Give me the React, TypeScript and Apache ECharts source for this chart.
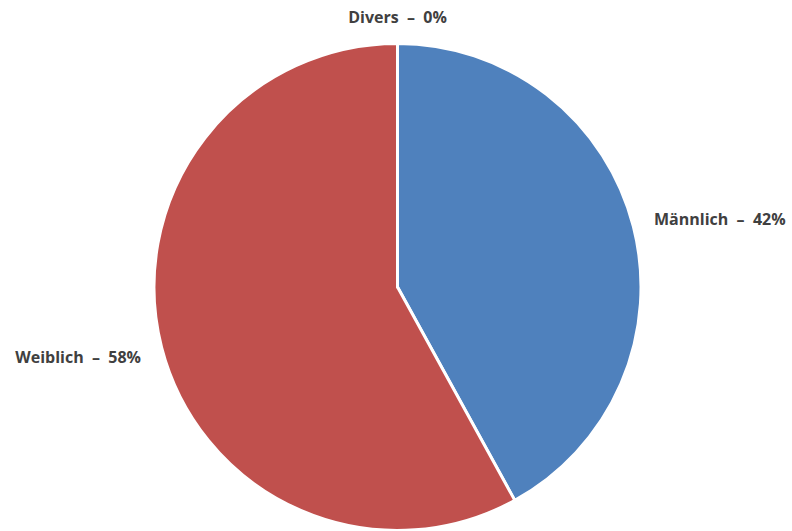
import React, { useEffect, useRef } from "react";
import * as echarts from "echarts";

const categories = ["Männlich", "Weiblich", "Divers"];
const values = [42, 58, 0];
const colors = ["#4F81BD", "#C0504D", "#9BBB59"];

export default function App() {
  const ref = useRef<HTMLDivElement>(null);
  useEffect(() => {
    document.body.style.margin = "0";
    const chart = echarts.init(ref.current!, null, { renderer: "svg" });
    chart.setOption({
      animation: false,
      backgroundColor: "#ffffff",
      series: [
        {
          type: "pie",
          center: [397.5, 287],
          radius: 243.5,
          startAngle: 90,
          clockwise: true,
          percentPrecision: 0,
          itemStyle: { borderColor: "#ffffff", borderWidth: 3 },
          label: {
            show: true,
            position: "outside",
            formatter: "{b}  \u2013  {d}%",
            color: "#404040",
            fontFamily: "Open Sans",
            fontWeight: "bold",
            fontSize: 16,
            overflow: "none",
            edgeDistance: 0,
          },
          labelLine: { show: false, length: 12, length2: 4 },
          labelLayout: (params: any) => {
            if (params.dataIndex === 2) {
              const r = params.rect;
              const lr = params.labelRect;
              return {
                dx: r.x + r.width / 2 - (lr.x + lr.width / 2),
                dy: -15,
              };
            }
            if (params.dataIndex === 1) {
              return { dy: 6 };
            }
            return { dy: -4 };
          },
          data: categories.map((name, i) => ({
            name,
            value: values[i],
            itemStyle: { color: colors[i] },
          })),
        },
      ],
    });
    return () => chart.dispose();
  }, []);
  return <div ref={ref} style={{ width: 792, height: 531 }} />;
}
